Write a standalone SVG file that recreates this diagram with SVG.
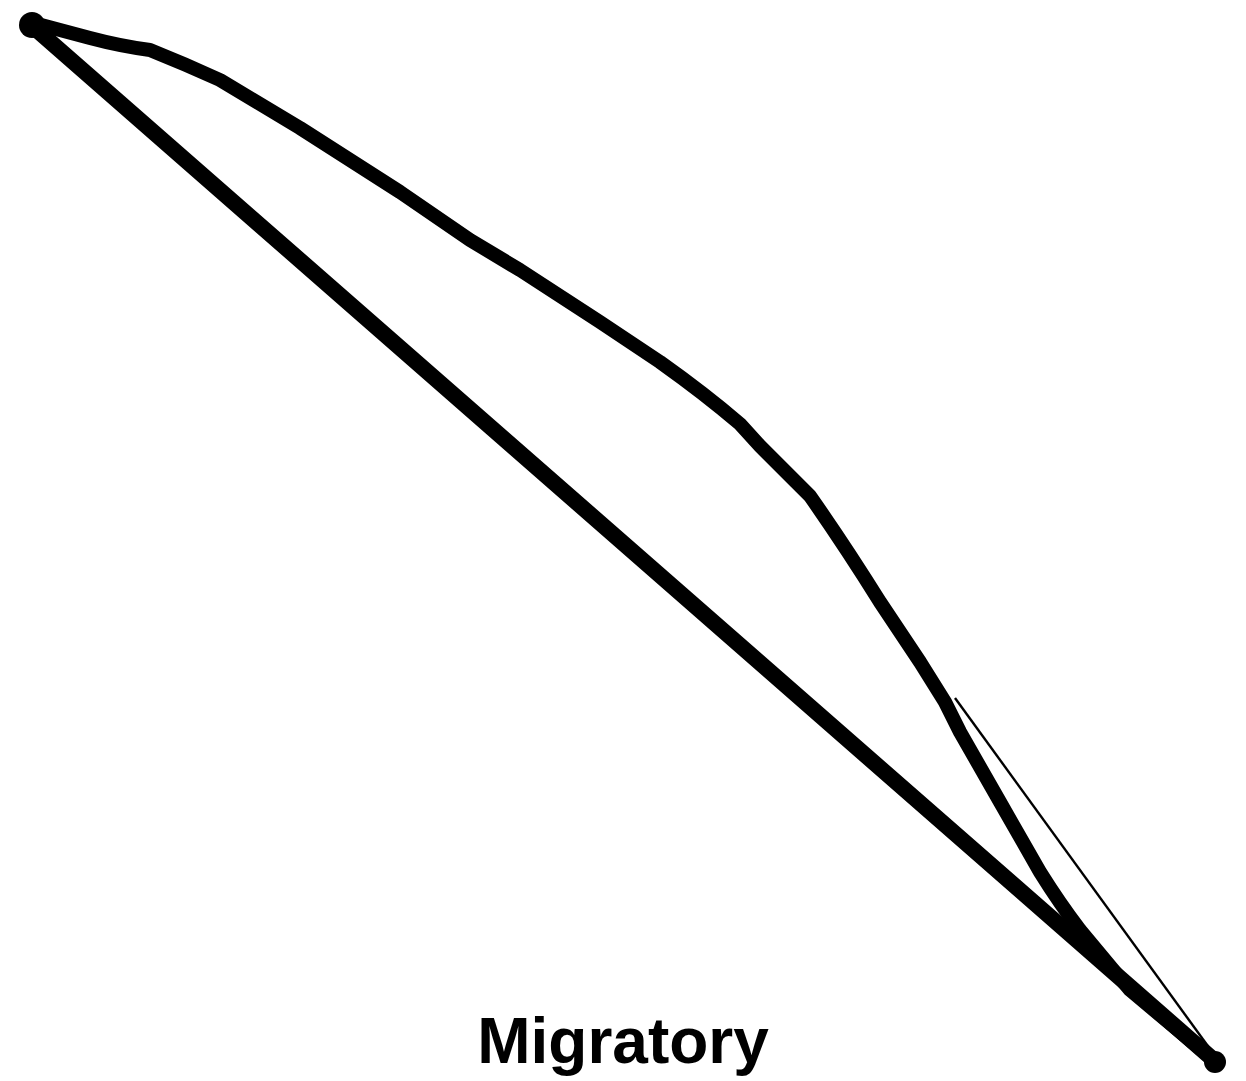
<svg xmlns="http://www.w3.org/2000/svg" width="1246" height="1081" viewBox="0 0 1246 1081">
<style>
.thick{fill:none;stroke:#000;stroke-linecap:round;stroke-linejoin:round}
.thin{fill:none;stroke:#000;stroke-width:2.4}
.label{font-family:"Liberation Sans",Arial,sans-serif;font-weight:bold;font-size:64px;fill:#000}
</style>
<rect width="1246" height="1081" fill="#fff"/>
<g id="connectors">
<path class="thick" stroke-width="16" d="M30,24 L1216,1062"/>
<path class="thick" stroke-width="14" d="M30,22 L90,38 Q120,46 150,50 Q185,64 220,80 L300,128 L400,192 L470,240 L520,270 L600,322 L660,362 Q705,394 740,424 L760,446 L810,496 Q845,546 880,602 L920,662 L945,702 L960,732 L1000,802 L1040,872 Q1060,904 1080,930 L1130,990 L1216,1062"/>
<path class="thin" d="M955,698 L1218,1060"/>
</g>
<g id="node-start"><circle cx="32" cy="25" r="13" fill="#000"/></g>
<g id="node-end"><circle cx="1215" cy="1062" r="11" fill="#000"/></g>
<g id="label"><text class="label" x="623" y="1063" text-anchor="middle">Migratory</text></g>
</svg>
